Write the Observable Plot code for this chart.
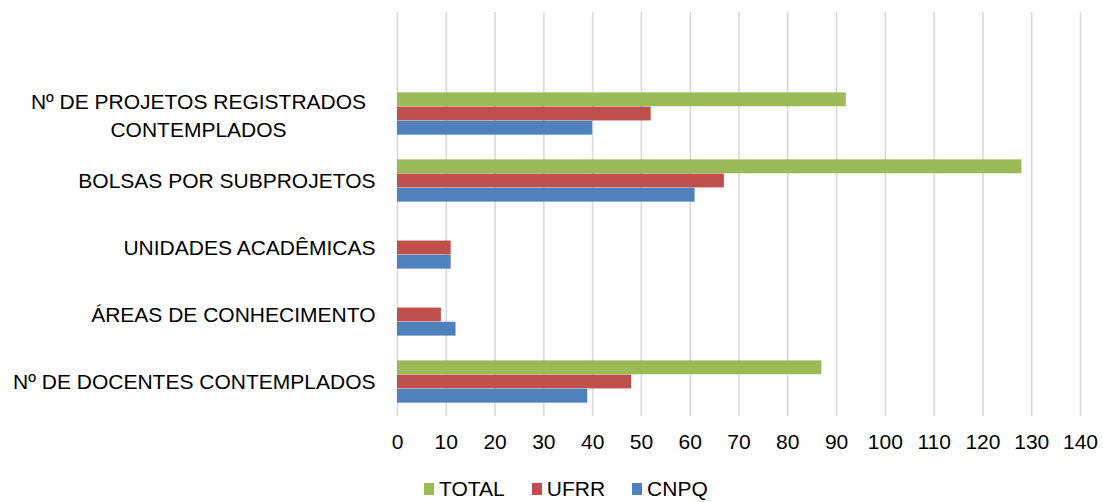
<!DOCTYPE html>
<html>
<head>
<meta charset="utf-8">
<script src="https://cdn.jsdelivr.net/npm/d3@7"></script>
<script src="https://cdn.jsdelivr.net/npm/@observablehq/plot@0.6"></script>
<style>
  html, body { margin: 0; padding: 0; background: #fff; }
  #chart { width: 1103px; font-family: "Liberation Sans", Arial, sans-serif; }
  #legend { display: flex; align-items: center; height: 42px; padding-left: 424px;
            font-family: "Liberation Sans", Arial, sans-serif; font-size: 21px; color: #000; }
  .item { display: flex; align-items: center; margin-right: 27px; }
  .sw { width: 10px; height: 12px; margin-right: 5px; }
</style>
</head>
<body>
<div id="chart"></div>
<script>
const categories = [
  "Nº DE PROJETOS REGISTRADOS\nCONTEMPLADOS",
  "BOLSAS POR SUBPROJETOS",
  "UNIDADES ACADÊMICAS",
  "ÁREAS DE CONHECIMENTO",
  "Nº DE DOCENTES CONTEMPLADOS"
];
const series = ["TOTAL", "UFRR", "CNPQ"];
const totalValues = [92, 128, null, null, 87];
const ufrrValues = [52, 67, 11, 9, 48];
const cnpqValues = [40, 61, 11, 12, 39];
const xTicks = [0, 10, 20, 30, 40, 50, 60, 70, 80, 90, 100, 110, 120, 130, 140];
const colors = ["#9BBB59", "#C0504D", "#4F81BD"];

const seriesValues = [totalValues, ufrrValues, cnpqValues];
const rows = [];
series.forEach((s, i) => {
  categories.forEach((c, j) => {
    const v = seriesValues[i][j];
    if (v != null) rows.push({category: c, series: s, value: v, idx: i});
  });
});

const H = 468, mTop = 12, mBottom = 52;
const band = (H - mTop - mBottom) / (categories.length + 1);
const barH = 14.2;

function barsFor(i) {
  const top = band / 2 - 1.5 * barH + i * barH;
  return Plot.barX(rows.filter(d => d.idx === i), {
    x: "value", y: "category", fill: "series",
    insetTop: top, insetBottom: band - top - barH
  });
}

const singleLine = categories.filter(c => !c.includes("\n"));
const multiLine = categories.filter(c => c.includes("\n"));

const chart = Plot.plot({
  width: 1103,
  height: H,
  marginTop: mTop,
  marginBottom: mBottom,
  marginLeft: 397,
  marginRight: 23,
  style: {fontFamily: "Liberation Sans, Arial, sans-serif", fontSize: "21px", color: "#000", background: "#fff"},
  x: {domain: [0, 140], ticks: xTicks},
  y: {domain: ["", ...categories], padding: 0, axis: null},
  color: {domain: series, range: colors},
  marks: [
    Plot.gridX(xTicks, {stroke: "#d9d9d9", strokeOpacity: 1, strokeWidth: 1.6}),
    barsFor(0), barsFor(1), barsFor(2),
    Plot.axisX({ticks: xTicks, tickSize: 0, tickPadding: 18, fontSize: 21, label: null}),
    Plot.text(singleLine, {y: d => d, text: d => d, frameAnchor: "left", dx: -22,
      textAnchor: "end", fontSize: 21, fill: "#000"}),
    Plot.text(multiLine, {y: d => d, text: d => d, frameAnchor: "left", dx: -199,
      textAnchor: "middle", lineHeight: 1.33, fontSize: 21, fill: "#000"})
  ]
});
document.getElementById("chart").appendChild(chart);

const legend = document.createElement("div");
legend.id = "legend";
series.forEach((s, i) => {
  const item = document.createElement("div");
  item.className = "item";
  const sw = document.createElement("span");
  sw.className = "sw";
  sw.style.background = colors[i];
  const t = document.createElement("span");
  t.textContent = s;
  item.appendChild(sw); item.appendChild(t);
  legend.appendChild(item);
});
document.getElementById("chart").appendChild(legend);
</script>
</body>
</html>
